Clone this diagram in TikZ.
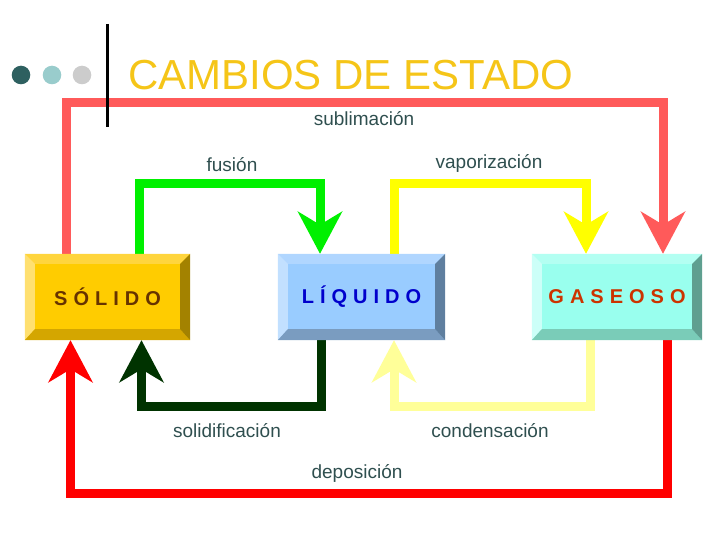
\documentclass[tikz,border=0pt]{standalone}
\usepackage{fontspec}
\setmainfont{Liberation Sans}
\newfontfamily\spaced[LetterSpace=30]{Liberation Sans}
\usetikzlibrary{arrows.meta,calc}

\definecolor{titulo}{HTML}{F5C518}
\definecolor{etiq}{HTML}{2F4F4F}
\definecolor{punto1}{HTML}{2E6060}
\definecolor{punto2}{HTML}{99CCCC}
\definecolor{punto3}{HTML}{CCCCCC}
% caras y biseles: cara, arriba, izquierda, derecha, abajo, texto
\definecolor{solcara}{HTML}{FFCC00}
\definecolor{solarr}{HTML}{FFD53D}
\definecolor{solizq}{HTML}{FFE070}
\definecolor{solder}{HTML}{A38200}
\definecolor{solaba}{HTML}{D4A600}
\definecolor{soltxt}{HTML}{663300}
\definecolor{liqcara}{HTML}{99CCFF}
\definecolor{liqarr}{HTML}{B0D6FF}
\definecolor{liqizq}{HTML}{C2E0FF}
\definecolor{liqder}{HTML}{5F7F9F}
\definecolor{liqaba}{HTML}{7A9CC0}
\definecolor{liqtxt}{HTML}{0000CC}
\definecolor{gascara}{HTML}{99FFEE}
\definecolor{gasarr}{HTML}{B3FFF2}
\definecolor{gasizq}{HTML}{CCFFF8}
\definecolor{gasder}{HTML}{5F9F90}
\definecolor{gasaba}{HTML}{7ACCB8}
\definecolor{gastxt}{HTML}{CC3300}
% flechas
\definecolor{subl}{HTML}{FF5A5A}
\definecolor{fusi}{HTML}{00F000}
\definecolor{vapo}{HTML}{FFFF00}
\definecolor{soli}{HTML}{003300}
\definecolor{cond}{HTML}{FFFF99}
\definecolor{depo}{HTML}{FF0000}

\newcommand{\bisel}[5]{%
  \fill[#2] (#1.north west) -- (#1.north east) -- ($(#1.north east)+(-10,10)$) -- ($(#1.north west)+(10,10)$) -- cycle;
  \fill[#3] (#1.north west) -- ($(#1.north west)+(10,10)$) -- ($(#1.south west)+(10,-11)$) -- (#1.south west) -- cycle;
  \fill[#5] (#1.south west) -- ($(#1.south west)+(10,-11)$) -- ($(#1.south east)+(-10,-11)$) -- (#1.south east) -- cycle;
  \fill[#4] (#1.north east) -- ($(#1.north east)+(-10,10)$) -- ($(#1.south east)+(-10,-11)$) -- (#1.south east) -- cycle;
}

\begin{document}
\begin{tikzpicture}[x=1pt,y=-1pt,
    estado/.style={rectangle,minimum height=86pt,inner sep=0pt,
      font=\spaced\bfseries\fontsize{20}{22}\selectfont},
    cambio/.style={line width=9pt,-{Stealth[length=42pt,width=44pt,inset=13pt]}},
    etiqueta/.style={anchor=base,inner sep=0pt,text=etiq,
      font=\fontsize{19}{22}\selectfont}]

  \useasboundingbox (0,0) rectangle (720,540);

  % titulo
  \foreach \x/\c in {21/punto1,52/punto2,82/punto3}
    \fill[\c] (\x,75) circle[radius=9.3pt];
  \node[anchor=base west,inner sep=0pt,text=titulo,
    font=\fontsize{42}{46}\selectfont] (titulo) at (128,90) {CAMBIOS DE ESTADO};

  % estados
  \node[estado,fill=solcara,minimum width=165pt,text=soltxt] (solido) at (107.5,297) {SÓLIDO};
  \node[estado,fill=liqcara,minimum width=167pt,text=liqtxt] (liquido) at (361.5,297) {LÍQUIDO};
  \node[estado,fill=gascara,minimum width=170pt,text=gastxt] (gaseoso) at (617,297) {GASEOSO};

  % cambios
  \draw[cambio,subl] ([xshift=-41.5pt]solido.north) -- ++(0,-151) -| ([xshift=46pt]gaseoso.north);
  \draw[cambio,fusi] ([xshift=31.5pt]solido.north) -- ++(0,-70) -| ([xshift=-41.5pt]liquido.north);
  \draw[cambio,vapo] ([xshift=32.5pt]liquido.north) -- ++(0,-70) -| ([xshift=-31pt]gaseoso.north);
  \draw[cambio,soli] ([xshift=-40.5pt]liquido.south) -- ++(0,66) -| ([xshift=34pt]solido.south);
  \draw[cambio,cond] ([xshift=-27pt]gaseoso.south) -- ++(0,66) -| ([xshift=32.5pt]liquido.south);
  \draw[cambio,depo] ([xshift=50pt]gaseoso.south) -- ++(0,153) -| ([xshift=-37pt]solido.south);

  \bisel{solido}{solarr}{solizq}{solder}{solaba}
  \bisel{liquido}{liqarr}{liqizq}{liqder}{liqaba}
  \bisel{gaseoso}{gasarr}{gasizq}{gasder}{gasaba}

  % etiquetas
  \node[etiqueta] (lsubl) at (364,126) {sublimación};
  \node[etiqueta] (lfusi) at (232,172) {fusión};
  \node[etiqueta] (lvapo) at (489,169) {vaporización};
  \node[etiqueta] (lsoli) at (227,437) {solidificación};
  \node[etiqueta] (lcond) at (490,437) {condensación};
  \node[etiqueta] (ldepo) at (357,478) {deposición};

  \draw[line width=3.3pt] (107.3,24) -- (107.3,127);
\end{tikzpicture}
\end{document}
